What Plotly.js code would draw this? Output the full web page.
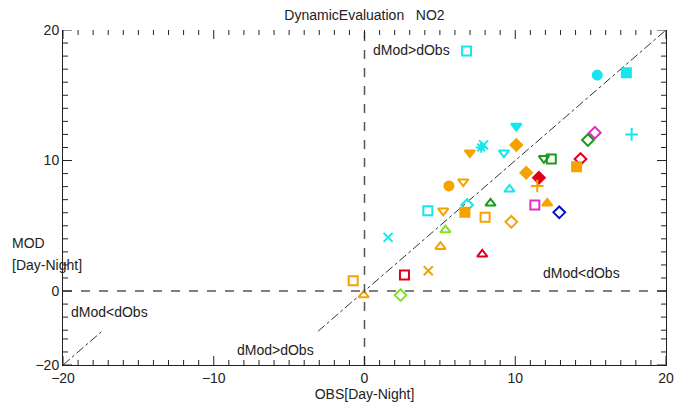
<!DOCTYPE html>
<html>
<head>
<meta charset="utf-8">
<script src="https://cdn.plot.ly/plotly-3.0.1.min.js"></script>
<style>html,body{margin:0;padding:0;background:#fff;}#chart{width:683px;height:404px;}</style>
</head>
<body>
<div id="chart"></div>
<script>
// Data
const obs = [6.77, 15.44, 17.37, 17.72, 15.28, 14.82, 14.33, 14.07, 11.9, 12.39,
             11.57, 11.46, 10.73, 12.12, 11.3, 12.92, 10.07, 10.07, 9.25, 9.62,
             8.36, 8.0, 9.74, 7.74, 7.9, 6.99, 5.6, 6.55, 4.2, 5.22,
             6.81, 6.66, 5.37, 5.04, 1.57, 7.81, 2.65, 4.23, -0.75, -0.05, 2.39];
const mod = [18.39, 16.55, 16.73, 12.0, 12.13, 11.57, 10.11, 9.53, 10.17, 10.11,
             8.68, 8.05, 9.07, 6.72, 6.59, 6.03, 12.64, 11.19, 10.6, 7.79,
             6.72, 5.65, 5.3, 11.0, 11.2, 10.6, 8.05, 8.38, 6.15, 6.15,
             6.59, 6.03, 4.67, 3.4, 4.11, 2.81, 1.23, 1.56, 0.79, -0.31, -0.31];
const symbols = ['square-open','circle','square','cross-thin-open','diamond-open','diamond-open','diamond-open','square','triangle-down-open','square-open',
                 'diamond','cross-thin-open','diamond','triangle-up','square-open','diamond-open','triangle-down','diamond','triangle-down-open','triangle-up-open',
                 'triangle-up-open','square-open','diamond-open','asterisk-open','x-thin-open','triangle-down','circle','triangle-down-open','square-open','triangle-down-open',
                 'diamond-open','square','triangle-up-open','triangle-up-open','x-thin-open','triangle-up-open','square-open','x-thin-open','square-open','triangle-up-open','diamond-open'];
const CY='#14e6ee', OR='#f5a300', GR='#1a9a1a', LI='#86e02a', RD='#e0001a', MG='#e030c0', BL='#0010c8';
const colors = [CY,CY,CY,CY,MG,GR,RD,OR,GR,GR,
                RD,OR,OR,OR,MG,BL,CY,OR,CY,CY,
                GR,OR,OR,CY,CY,OR,OR,OR,CY,OR,
                CY,OR,LI,OR,CY,RD,RD,OR,OR,OR,LI];

const xRange = [-20,20];
const yUpperRange = [-3.1,20];
const yLowerRange = [-20,-17.43];
const majorStep = 10;
const minorStep = 1;

const W = 683, H = 404, M = {l:63, r:17, t:30, b:39};
const plotW = W - M.l - M.r, plotH = H - M.t - M.b;
const MAJOR_LEN = 9, MINOR_LEN = 5;

const font = {family:'Liberation Sans, Arial, sans-serif', size:14, color:'#222'};

const traces = [
  {x:[yUpperRange[0], xRange[1]], y:[yUpperRange[0], xRange[1]], xaxis:'x', yaxis:'y', mode:'lines',
   line:{color:'#333', width:1, dash:'dashdot'}, hoverinfo:'skip', showlegend:false},
  {x:[xRange[0], yLowerRange[1]], y:[xRange[0], yLowerRange[1]], xaxis:'x', yaxis:'y2', mode:'lines',
   line:{color:'#333', width:1, dash:'dashdot'}, hoverinfo:'skip', showlegend:false},
  {x:obs, y:mod, xaxis:'x', yaxis:'y', mode:'markers', showlegend:false, cliponaxis:false,
   marker:{symbol:symbols, color:colors, size:9, line:{color:colors, width:2}}}
];

function axis(extra){
  return Object.assign({showgrid:false, zeroline:false, showline:true, linecolor:'#222', linewidth:1,
    tickmode:'linear', tick0:-20, dtick:majorStep, ticks:'', tickfont:font}, extra);
}

// Tick marks drawn as shapes (inside-pointing, on all four sides)
const tickShapes = [];
const tl = {color:'#222', width:1};
function isMajor(v){ return Math.abs(v % majorStep) < 1e-9; }
for (let v = xRange[0]; v <= xRange[1]; v += minorStep) {
  const len = (isMajor(v) ? MAJOR_LEN : MINOR_LEN) / plotH;
  tickShapes.push({type:'line', layer:'above', xref:'x', yref:'paper', x0:v, x1:v, y0:0, y1:len, line:tl});
  tickShapes.push({type:'line', layer:'above', xref:'x', yref:'paper', x0:v, x1:v, y0:1, y1:1-len, line:tl});
}
function yTicks(range, ref){
  for (let v = Math.ceil(range[0]); v <= range[1]; v += minorStep) {
    const len = (isMajor(v) ? MAJOR_LEN : MINOR_LEN) / plotW;
    tickShapes.push({type:'line', layer:'above', xref:'paper', yref:ref, x0:0, x1:len, y0:v, y1:v, line:tl});
    tickShapes.push({type:'line', layer:'above', xref:'paper', yref:ref, x0:1, x1:1-len, y0:v, y1:v, line:tl});
  }
}
yTicks(yUpperRange, 'y');
yTicks(yLowerRange, 'y2');

const layout = {
  width:W, height:H,
  margin:M,
  paper_bgcolor:'#ffffff', plot_bgcolor:'#ffffff',
  font:font,
  title:{text:'DynamicEvaluation   NO2', font:{family:font.family, size:14, color:'#222'},
         x:0.5, xref:'paper', xanchor:'center', y:0.962, yanchor:'middle'},
  xaxis:axis({range:xRange, anchor:'y2', domain:[0,1],
         title:{text:'OBS[Day-Night]', font:font, standoff:0}}),
  xaxis2:axis({range:xRange, anchor:'y', overlaying:'x', side:'top', showticklabels:false}),
  yaxis:axis({range:yUpperRange, domain:[0.1,1], anchor:'x', mirror:true}),
  yaxis2:axis({range:yLowerRange, domain:[0,0.1], anchor:'x', mirror:true}),
  shapes:[
    {type:'line', xref:'x', yref:'paper', x0:0, x1:0, y0:0, y1:1, line:{color:'#555', width:1.5, dash:'dash'}},
    {type:'line', xref:'paper', yref:'y', x0:0, x1:1, y0:0, y1:0, line:{color:'#555', width:1.5, dash:'dash'}}
  ].concat(tickShapes),
  annotations:[
    {text:'dMod>dObs', xref:'x', yref:'y', x:0.4, y:18.47, xanchor:'left', yanchor:'middle', showarrow:false, font:font},
    {text:'dMod<dObs', xref:'x', yref:'y', x:11.68, y:1.38, xanchor:'left', yanchor:'middle', showarrow:false, font:font},
    {text:'dMod<dObs', xref:'x', yref:'y', x:-19.58, y:-1.61, xanchor:'left', yanchor:'middle', showarrow:false, font:font},
    {text:'dMod>dObs', xref:'x', yref:'y2', x:-8.56, y:-18.85, xanchor:'left', yanchor:'middle', showarrow:false, font:font},
    {text:'MOD', xref:'paper', yref:'y', x:-0.088, y:3.68, xanchor:'left', yanchor:'middle', showarrow:false, font:font},
    {text:'[Day-Night]', xref:'paper', yref:'y', x:-0.088, y:1.99, xanchor:'left', yanchor:'middle', showarrow:false, font:font}
  ]
};

Plotly.newPlot('chart', traces, layout, {displayModeBar:false, staticPlot:true});
</script>
</body>
</html>
